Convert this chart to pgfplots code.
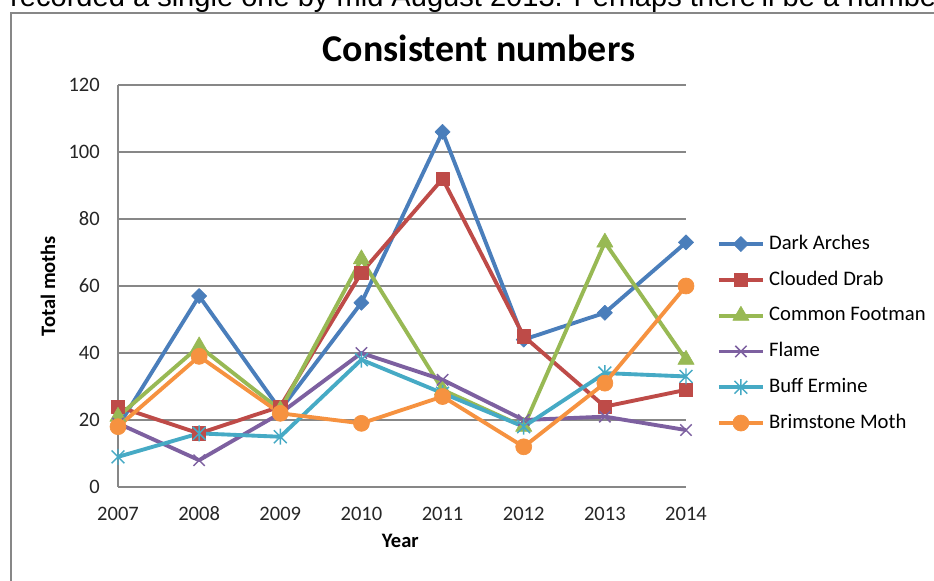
\documentclass[border=0pt]{standalone}
\usepackage{pgfplots}
\pgfplotsset{compat=1.18}
\usepackage{fontspec}
\setmainfont{Carlito}
\newfontfamily\arialfont{Liberation Sans}
\definecolor{cA}{HTML}{4A7EBB}
\definecolor{cB}{HTML}{BE4B48}
\definecolor{cC}{HTML}{98B954}
\definecolor{cD}{HTML}{7D60A0}
\definecolor{cE}{HTML}{46AAC5}
\definecolor{cF}{HTML}{F69240}
\definecolor{gridgray}{HTML}{878787}
\definecolor{framegray}{HTML}{878787}
\definecolor{lbl}{HTML}{262626}
\pgfdeclareplotmark{xstar}{%
  \pgfpathmoveto{\pgfqpoint{0pt}{\pgfplotmarksize}}%
  \pgfpathlineto{\pgfqpoint{0pt}{-\pgfplotmarksize}}%
  \pgfpathmoveto{\pgfqpoint{-.8\pgfplotmarksize}{-.8\pgfplotmarksize}}%
  \pgfpathlineto{\pgfqpoint{.8\pgfplotmarksize}{.8\pgfplotmarksize}}%
  \pgfpathmoveto{\pgfqpoint{-.8\pgfplotmarksize}{.8\pgfplotmarksize}}%
  \pgfpathlineto{\pgfqpoint{.8\pgfplotmarksize}{-.8\pgfplotmarksize}}%
  \pgfusepathqstroke}
\begin{document}
\begin{tikzpicture}
\path[use as bounding box] (0,0) rectangle (700.5pt,435.75pt);
\clip (0,0) rectangle (700.5pt,435.75pt);
\fill[white] (0,0) rectangle (700.5pt,435.75pt);
\node[anchor=base west, inner sep=0pt, font=\arialfont\fontsize{21.8}{24}\selectfont] at (7.5pt,430.5pt) {recorded a single one by mid August 2013. Perhaps there'll be a number};
\draw[framegray, line width=1.4pt] (8.25pt,-10pt) rectangle (720pt,426pt);
\node[anchor=base, inner sep=0pt, font=\bfseries\fontsize{28.4}{31}\selectfont] at (359.25pt,389.25pt) {Consistent numbers};
\begin{axis}[
  at={(88.5pt,70.5pt)}, anchor=south west,
  scale only axis, width=426pt, height=301.5pt,
  xmin=2007, xmax=2014, ymin=0, ymax=120,
  axis lines=left, axis line style={-, draw=gridgray, line width=0.9pt},
  ymajorgrids, grid style={gridgray, line width=0.9pt},
  xtick={2007,2008,2009,2010,2011,2012,2013,2014},
  xticklabels={2007,2008,2009,2010,2011,2012,2013,2014},
  ytick={0,20,40,60,80,100,120},
  major tick length=0pt,
  /pgf/number format/assume math mode=true,
  tick label style={font=\fontsize{15.4}{18}\selectfont, text=lbl},
  yticklabel style={inner sep=0pt, anchor=east, xshift=-13.5pt},
  xticklabel style={inner sep=0pt, anchor=center, yshift=-20.25pt},
  ylabel={Total moths}, xlabel={Year},
  label style={font=\bfseries\fontsize{15.4}{18}\selectfont},
  ylabel style={at={(axis description cs:-0.1232,0.5)}, anchor=center},
  xlabel style={at={(axis description cs:0.497,-0.1343)}, anchor=center},
  legend style={at={(1.0545,0.6276)}, anchor=north west, draw=none, fill=none,
    inner sep=0pt, outer sep=0pt, row sep=12.85pt, column sep=3.2pt,
    font=\fontsize{15.5}{18}\selectfont,
    nodes={inner sep=0pt, text height=11pt, text depth=3pt}},
  legend cell align=left,
  legend image code/.code={\draw[mark repeat=2,mark phase=2,#1] plot coordinates {(0pt,0pt) (16.5pt,0pt) (33pt,0pt)};},
  every axis plot/.append style={line width=2.9pt, line join=round},
]
\addplot[color=cA, mark=square*, mark size=4pt, mark options={solid, rotate=45, fill=cA, line width=0.5pt}]
  coordinates {(2007,18) (2008,57) (2009,23) (2010,55) (2011,106) (2012,44) (2013,52) (2014,73)};
\addlegendentry{Dark Arches}
\addplot[color=cB, mark=square*, mark size=5pt, mark options={solid, fill=cB, line width=0.5pt}]
  coordinates {(2007,24) (2008,16) (2009,24) (2010,64) (2011,92) (2012,45) (2013,24) (2014,29)};
\addlegendentry{Clouded Drab}
\addplot[color=cC, mark=triangle*, mark size=7pt, mark options={solid, fill=cC, line width=0.5pt}]
  coordinates {(2007,21) (2008,42) (2009,23) (2010,68) (2011,29) (2012,18) (2013,73) (2014,38)};
\addlegendentry{Common Footman}
\addplot[color=cD, mark=x, mark size=6pt, mark options={solid, line width=1.1pt}]
  coordinates {(2007,19) (2008,8) (2009,22) (2010,40) (2011,32) (2012,20) (2013,21) (2014,17)};
\addlegendentry{Flame}
\addplot[color=cE, mark=xstar, mark size=6pt, mark options={solid, line width=1.1pt}]
  coordinates {(2007,9) (2008,16) (2009,15) (2010,38) (2011,28) (2012,18) (2013,34) (2014,33)};
\addlegendentry{Buff Ermine}
\addplot[color=cF, mark=*, mark size=6pt, mark options={solid, fill=cF, line width=0.5pt}]
  coordinates {(2007,18) (2008,39) (2009,22) (2010,19) (2011,27) (2012,12) (2013,31) (2014,60)};
\addlegendentry{Brimstone Moth}
\end{axis}
\end{tikzpicture}
\end{document}
